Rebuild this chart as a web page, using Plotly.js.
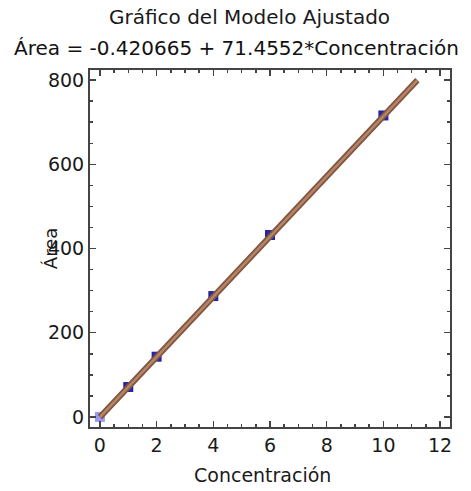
<!DOCTYPE html>
<html><head><meta charset="utf-8">
<script src="https://cdn.plot.ly/plotly-3.0.1.min.js"></script>
<style>body{margin:0;background:#fff}#c{width:471px;height:491px}</style>
</head><body><div id="c"></div>
<script>
const concentracion = [0, 1, 2, 4, 6, 10];
const area = [0, 71, 143, 287, 432, 716];
const fitX = [0, 11.2];
const fitY = [-0.42, 799.9];
const xTicks = [0, 2, 4, 6, 8, 10, 12];
const yTicks = [0, 200, 400, 600, 800];

const fnt = 'DejaVu Sans, Verdana, sans-serif';
const traces = [
  {x: concentracion, y: area, mode: 'markers',
   marker: {color: ['#9a9af0', '#2424a6', '#2424a6', '#2424a6', '#2424a6', '#2424a6'], size: 10, symbol: 'square'}, showlegend: false},
  {x: fitX, y: fitY, mode: 'lines', line: {color: '#83543f', width: 6}, hoverinfo: 'skip', showlegend: false},
  {x: fitX, y: fitY, mode: 'lines', line: {color: '#b48668', width: 2.5}, hoverinfo: 'skip', showlegend: false}
];
const axisCommon = {
  showgrid: false, zeroline: false, showline: true, linecolor: '#444', linewidth: 2,
  mirror: 'ticks', ticks: 'inside', ticklen: 6, tickwidth: 1.5, tickcolor: '#444',
  tickfont: {family: fnt, size: 19, color: '#1a1a1a'},
  minor: {ticks: 'inside', ticklen: 3, tickwidth: 1.5, tickcolor: '#444'}
};
const layout = {
  width: 471, height: 491,
  margin: {l: 90, r: 21, t: 70, b: 64},
  paper_bgcolor: '#fff', plot_bgcolor: '#fff',
  xaxis: Object.assign({}, axisCommon, {
    range: [-0.35, 12.35], tickvals: xTicks, ticktext: xTicks.map(String),
    minor: Object.assign({}, axisCommon.minor, {dtick: 0.5})
  }),
  yaxis: Object.assign({}, axisCommon, {
    range: [-24, 824], tickvals: yTicks, ticktext: yTicks.map(String),
    minor: Object.assign({}, axisCommon.minor, {dtick: 50})
  }),
  annotations: [
    {text: 'Gráfico del Modelo Ajustado', xref: 'paper', yref: 'paper', x: 0.444, y: 1, yshift: 53, yanchor: 'middle', showarrow: false,
     font: {family: fnt, size: 20, color: '#1a1a1a'}},
    {text: 'Área = -0.420665 + 71.4552*Concentración', xref: 'paper', yref: 'paper', x: 0.408, y: 1, yshift: 22, yanchor: 'middle', showarrow: false,
     font: {family: fnt, size: 20, color: '#111'}},
    {text: 'Área', xref: 'paper', yref: 'paper', x: -0.144, y: 0.5, textangle: -90, showarrow: false,
     font: {family: fnt, size: 18, color: '#1a1a1a'}},
    {text: 'Concentración', xref: 'paper', yref: 'paper', x: 0.48, y: 0, yshift: -48, yanchor: 'middle', showarrow: false,
     font: {family: fnt, size: 19, color: '#1a1a1a'}}
  ]
};
Plotly.newPlot('c', traces, layout, {displayModeBar: false, staticPlot: true});
</script></body></html>
